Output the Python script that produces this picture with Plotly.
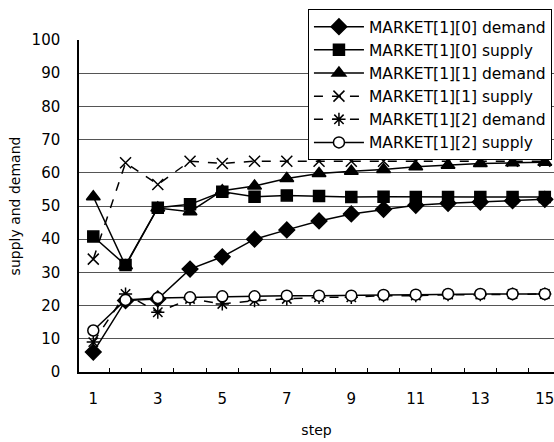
import plotly.graph_objects as go

steps = list(range(1, 16))
m0_demand = [6.0, 21.5, 22.0, 31.0, 34.7, 40.0, 42.8, 45.5, 47.6, 49.0, 50.2, 50.8, 51.2, 51.6, 52.0]
m0_supply = [40.8, 32.2, 49.5, 50.5, 54.3, 52.8, 53.2, 53.0, 52.7, 52.8, 52.7, 52.7, 52.7, 52.7, 52.7]
m1_demand = [52.8, 32.0, 49.4, 48.3, 54.6, 56.0, 58.3, 59.8, 60.5, 61.0, 61.8, 62.3, 62.8, 63.0, 63.2]
m1_supply = [34.0, 63.0, 56.5, 63.5, 62.8, 63.5, 63.5, 63.5, 63.5, 63.5, 63.5, 63.5, 63.5, 63.5, 63.5]
m2_demand = [9.0, 23.5, 18.0, 22.0, 20.5, 21.5, 22.0, 22.5, 22.5, 23.0, 23.0, 23.3, 23.3, 23.5, 23.5]
m2_supply = [12.5, 21.7, 22.3, 22.5, 22.8, 22.8, 23.0, 23.0, 23.0, 23.2, 23.3, 23.5, 23.5, 23.5, 23.5]

names = ["MARKET[1][0] demand", "MARKET[1][0] supply", "MARKET[1][1] demand",
         "MARKET[1][1] supply", "MARKET[1][2] demand", "MARKET[1][2] supply"]
x_ticks = [1, 3, 5, 7, 9, 11, 13, 15]
y_ticks = list(range(0, 101, 10))

series = [m0_demand, m0_supply, m1_demand, m1_supply, m2_demand, m2_supply]
styles = [
    dict(symbol="diamond", size=12, color="black", dash="solid"),
    dict(symbol="square", size=11, color="black", dash="solid"),
    dict(symbol="triangle-up", size=12, color="black", dash="solid"),
    dict(symbol="x-thin-open", size=11, color="black", dash="dash"),
    dict(symbol="asterisk-open", size=11, color="black", dash="dash"),
    dict(symbol="circle", size=11, color="white", dash="solid"),
]

fig = go.Figure()
for name, ys, st in zip(names, series, styles):
    fig.add_trace(go.Scatter(
        x=steps, y=ys, name=name, mode="lines+markers",
        line=dict(color="black", width=1.5, dash=st["dash"]),
        marker=dict(symbol=st["symbol"], size=st["size"], color=st["color"],
                    line=dict(color="black", width=1.5)),
    ))

fig.update_layout(
    width=554, height=442,
    margin=dict(l=79, r=0, t=40, b=70),
    paper_bgcolor="white", plot_bgcolor="white",
    font=dict(family="DejaVu Sans, Liberation Sans, sans-serif", color="black"),
    showlegend=True,
    legend=dict(x=0.482, y=1.093, xanchor="left", yanchor="top",
                bgcolor="white", bordercolor="black", borderwidth=1,
                font=dict(size=15.5), itemwidth=50, tracegroupgap=0),
    xaxis=dict(range=[0.557, 15.285], tickvals=x_ticks, ticktext=[str(v) for v in x_ticks],
               showgrid=False, zeroline=False, showline=True, linecolor="black", linewidth=1.5,
               ticks="", ticklabelstandoff=12, automargin=False, ticklabeloverflow="allow",
               minor=dict(ticks="inside", tick0=0.5, dtick=1, ticklen=4, tickcolor="black", showgrid=False),
               tickfont=dict(size=15),
               title=dict(text="step", font=dict(size=14), standoff=18)),
    yaxis=dict(range=[0, 100], tickvals=y_ticks, showgrid=True, gridcolor="#555555", gridwidth=1,
               zeroline=False, showline=True, linecolor="black", linewidth=1.5,
               ticks="", ticklabelstandoff=14, tickfont=dict(size=15), automargin=False,
               title=dict(text="supply and demand", font=dict(size=14), standoff=8)),
)

fig.write_html("out.html", config={"displayModeBar": False},
               post_script="document.body.style.margin='0';document.body.style.overflow='hidden';")
